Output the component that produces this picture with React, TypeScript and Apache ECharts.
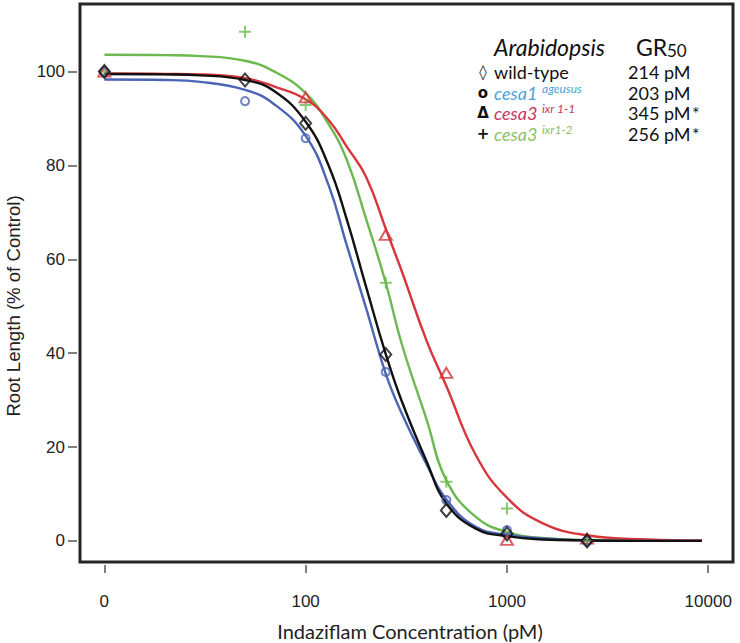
import React, { useEffect, useRef } from "react";
import * as echarts from "echarts";

// Tick positions (log10 position) and labels
const X_TICK_POS = [1, 2, 3, 4];
const X_TICK_LABELS = ["0", "100", "1000", "10000"];
const Y_TICKS = [0, 20, 40, 60, 80, 100];

// Fitted curves (concentration in pM; 10 is drawn at the "0" position)
const CURVE_CONC = [10, 20, 30, 50, 70, 100, 130, 160, 200, 250, 300, 400, 500, 700, 1000, 1500, 2500, 5000, 9300];
const FIT_WT = [99.5, 99.4, 99.2, 98.2, 95.8, 89.3, 80.0, 68.5, 54.0, 39.8, 29.8, 16.8, 8.0, 2.6, 1.0, 0.3, 0.1, 0, 0];
const FIT_CESA1 = [98.3, 98.2, 97.8, 96.1, 93.0, 86.3, 75.8, 63.0, 49.5, 35.6, 27.2, 16.2, 8.8, 3.0, 1.3, 0.5, 0.1, 0, 0];
const FIT_IXR11 = [99.6, 99.5, 99.4, 98.6, 96.8, 94.1, 89.7, 84.0, 77.5, 66.5, 57.5, 42.5, 33.0, 18.3, 9.2, 3.8, 1.2, 0.3, 0.1];
const FIT_IXR12 = [103.6, 103.5, 103.3, 102.3, 100.0, 95.4, 88.8, 81.2, 68.5, 55.0, 42.0, 25.7, 12.9, 5.1, 1.9, 0.6, 0.2, 0, 0];

// Observed points
const DOSES = [0, 50, 100, 250, 500, 1000, 2500];
const OBS_WT = [100, 98.2, 89.0, 39.7, 6.5, 1.5, 0];
const OBS_CESA1 = [100, 93.7, 85.8, 36.0, 8.7, 2.3, 0];
const OBS_IXR11 = [100, null, 94.5, 65.2, 35.8, 0.2, 0.5];
const OBS_IXR12 = [100, 108.5, 92.9, 55.0, 12.6, 6.9, 0];

// Legend
const LEGEND_NAMES = ["wild-type", "cesa1", "cesa3", "cesa3"];
const LEGEND_SUPS = ["", "ageusus", "ixr 1-1", "ixr1-2"];
const LEGEND_GR50 = ["214 pM", "203 pM", "345 pM", "256 pM"];
const LEGEND_STAR = ["", "", "*", "*"];
const LEGEND_SYMBOLS = ["◊", "o", "Δ", "+"];

const C_BLACK = "#111111";
const C_BLUE = "#4a64b6";
const C_RED = "#d6363c";
const C_GREEN = "#6cb94f";
const T_BLUE = "#4e9fd6";
const T_RED = "#c9365f";
const T_GREEN = "#8cc064";
const TEXT_COLORS = ["#111111", T_BLUE, T_RED, T_GREEN];

const pos = (c: number) => (c === 0 ? 1 : Math.log10(c));

export default function App() {
  const ref = useRef<HTMLDivElement>(null);
  useEffect(() => {
    document.body.style.margin = "0";
    const chart = echarts.init(ref.current!, null, { renderer: "svg" });
    const curve = (vals: number[], color: string, z: number) => ({
      type: "line",
      data: CURVE_CONC.map((c, i) => [pos(c), vals[i]]),
      showSymbol: false,
      smooth: 0.45,
      lineStyle: { color, width: 2.4 },
      z,
      silent: true,
    });
    const pts = (vals: (number | null)[], symbol: string, size: any, color: string, z: number) => ({
      type: "scatter",
      data: DOSES.map((d, i) => (vals[i] == null ? null : [pos(d), vals[i]])).filter((p) => p),
      symbol,
      symbolSize: size,
      itemStyle: { color: "transparent", borderColor: color, borderWidth: 2 },
      z,
    });

    const legendX = 494;
    const symX = 483;
    const valX = 628;
    const supX = 542;
    const rowY = [72, 93, 113, 133.5];
    const graphics: any[] = [
      {
        type: "text",
        style: { text: "Arabidopsis", x: legendX, y: 47, font: "italic 23px Lato", fill: "#111", verticalAlign: "middle" },
      },
      {
        type: "text",
        style: { text: "GR", x: 636, y: 47, font: "23px Lato", fill: "#111", verticalAlign: "middle" },
      },
      {
        type: "text",
        style: { text: "50", x: 667, y: 50, font: "17px Lato", fill: "#111", verticalAlign: "middle" },
      },
      {
        type: "text",
        style: {
          text: "Root Length (% of Control)",
          x: 0, y: 0, font: "18.6px 'Liberation Sans'", fill: "#222", align: "center", verticalAlign: "middle",
        },
        x: 13, y: 306, rotation: Math.PI / 2,
      },
      {
        type: "text",
        style: {
          text: "Indaziflam Concentration (pM)",
          x: 410, y: 631, font: "20px Lato", fill: "#222", align: "center", verticalAlign: "middle",
        },
      },
    ];
    LEGEND_NAMES.forEach((name, i) => {
      const y = rowY[i];
      const italic = i > 0;
      graphics.push({
        type: "text",
        style: { text: LEGEND_SYMBOLS[i], x: symX, y, font: (i === 0 ? "" : "bold ") + "15px 'DejaVu Sans'", fill: "#111", align: "center", verticalAlign: "middle" },
      });
      graphics.push({
        type: "text",
        style: { text: name, x: legendX, y, font: (italic ? "italic " : "") + "18px Lato", fill: TEXT_COLORS[i], verticalAlign: "middle" },
      });
      if (LEGEND_SUPS[i]) {
        graphics.push({
          type: "text",
          style: { text: LEGEND_SUPS[i], x: supX, y: y - 4.5, font: "italic 12px Lato", fill: TEXT_COLORS[i], verticalAlign: "middle" },
        });
      }
      graphics.push({
        type: "text",
        style: { text: LEGEND_GR50[i], x: valX, y, font: "18px Lato", fill: "#111", verticalAlign: "middle" },
      });
      if (LEGEND_STAR[i]) {
        graphics.push({
          type: "text",
          style: { text: LEGEND_STAR[i], x: 692, y, font: "18px Lato", fill: "#111", verticalAlign: "middle" },
        });
      }
    });

    chart.setOption({
      animation: false,
      backgroundColor: "#ffffff",
      grid: { left: 80, right: 7, top: 4, bottom: 81, show: true, borderColor: "#262626", borderWidth: 3, backgroundColor: "transparent" },
      xAxis: {
        type: "value",
        min: 0.879,
        max: 4.123,
        offset: 3,
        axisLine: { show: false, onZero: false },
        splitLine: { show: false },
        axisTick: { show: true, length: 8, customValues: X_TICK_POS, lineStyle: { color: "#555", width: 1.5 } },
        axisLabel: {
          customValues: X_TICK_POS,
          margin: 28,
          fontSize: 17,
          fontFamily: "Liberation Sans",
          color: "#222",
          formatter: (v: number) => X_TICK_LABELS[X_TICK_POS.indexOf(Math.round(v))] ?? "",
        },
      },
      yAxis: {
        type: "value",
        min: -4.5,
        max: 114.4,
        offset: 3,
        axisLine: { show: false, onZero: false },
        splitLine: { show: false },
        axisTick: { show: true, length: 9, customValues: Y_TICKS, lineStyle: { color: "#555", width: 1.5 } },
        axisLabel: { customValues: Y_TICKS, margin: 12, fontSize: 17, fontFamily: "Liberation Sans", color: "#222" },
      },
      series: [
        curve(FIT_IXR12, C_GREEN, 2),
        curve(FIT_IXR11, C_RED, 3),
        curve(FIT_CESA1, C_BLUE, 4),
        curve(FIT_WT, C_BLACK, 5),
        pts(OBS_IXR12, "path://M0,6H12M6,0V12", 12, C_GREEN, 6),
        pts(OBS_IXR11, "triangle", [12, 10], C_RED, 6),
        pts(OBS_CESA1, "circle", 8, C_BLUE, 6),
        pts(OBS_WT, "diamond", [11, 13], C_BLACK, 7),
      ],
      graphic: graphics,
    });
    return () => chart.dispose();
  }, []);
  return <div ref={ref} style={{ width: 740, height: 643 }} />;
}
